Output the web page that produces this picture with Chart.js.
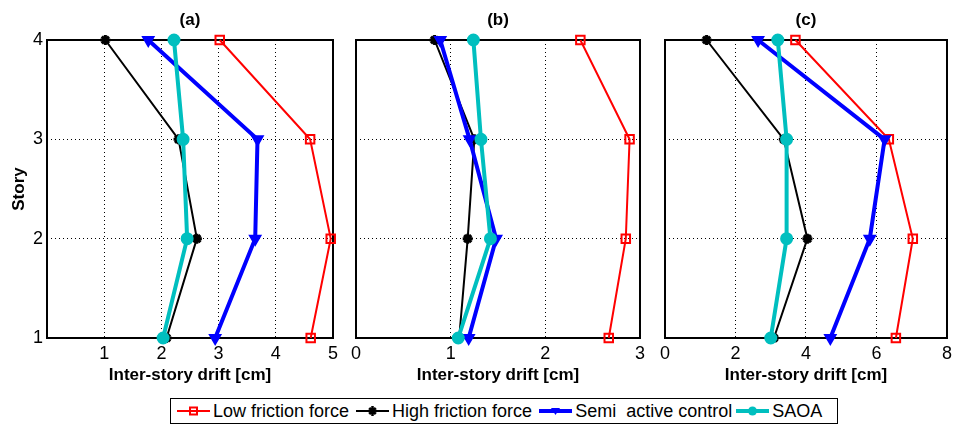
<!DOCTYPE html>
<html>
<head>
<meta charset="utf-8">
<script src="https://cdn.jsdelivr.net/npm/chart.js@4.4.0/dist/chart.umd.min.js"></script>
<style>
  body { margin: 0; background: #fff; font-family: "Liberation Sans", Arial, sans-serif; }
  #wrap { position: relative; width: 957px; height: 426px; overflow: hidden; }
  canvas { position: absolute; top: 0; }
  #legend {
    position: absolute; left: 170px; top: 398px; width: 666px; height: 24px;
    border: 1px solid #000; background: #fff; display: flex; align-items: center;
    font-size: 18px; color: #000; box-sizing: content-box; white-space: pre;
  }
  #legend .item { display: flex; align-items: center; }
  #legend svg { display: block; }
</style>
</head>
<body>
<div id="wrap">
  <canvas id="chartA" width="345" height="395" style="left:0px"></canvas>
  <canvas id="chartB" width="305" height="395" style="left:345px"></canvas>
  <canvas id="chartC" width="307" height="395" style="left:650px"></canvas>
  <div id="legend"></div>
</div>
<script>
// story levels (y) and tick values
var stories = [1, 2, 3, 4];
var yTicks = [1, 2, 3, 4];
var xTicksA = [1, 2, 3, 4, 5];
var xTicksB = [0, 1, 2, 3];
var xTicksC = [0, 2, 4, 6, 8];

var seriesNames = ["Low friction force", "High friction force", "Semi  active control", "SAOA"];
var seriesColors = ["#ff0000", "#000000", "#0000ff", "#00bfbf"];

// inter-story drift [cm] for stories 1..4
var lowA  = [4.61, 4.96, 4.60, 3.02];
var highA = [2.09, 2.62, 2.30, 1.02];
var semiA = [2.94, 3.64, 3.68, 1.77];
var saoaA = [2.03, 2.45, 2.38, 2.22];

var lowB  = [2.67, 2.85, 2.89, 2.37];
var highB = [1.09, 1.18, 1.25, 0.83];
var semiB = [1.19, 1.48, 1.20, 0.89];
var saoaB = [1.08, 1.42, 1.32, 1.24];

var lowC  = [6.55, 7.03, 6.35, 3.70];
var highC = [3.09, 4.04, 3.37, 1.18];
var semiC = [4.69, 5.81, 6.23, 2.64];
var saoaC = [3.00, 3.45, 3.45, 3.20];

// frame around the plot area + panel title
var framePlugin = {
    id: 'frame',
    beforeDatasetsDraw: function(chart) {
        var a = chart.chartArea, ctx = chart.ctx;
        ctx.save();
        ctx.strokeStyle = '#000';
        ctx.lineWidth = 2;
        ctx.strokeRect(a.left, a.top, a.right - a.left, a.bottom - a.top);
        ctx.restore();
    },
    afterDraw: function(chart, args, opts) {
        var a = chart.chartArea, ctx = chart.ctx;
        ctx.save();
        ctx.fillStyle = '#000';
        ctx.font = 'bold 17px "Liberation Sans", Arial, sans-serif';
        ctx.textAlign = 'center';
        ctx.textBaseline = 'middle';
        ctx.fillText(opts.text, (a.left + a.right) / 2, 20);
        ctx.restore();
    }
};

function line(i, xs, width, style, radius, fill, rot, order, pw) {
    return {
        label: seriesNames[i],
        data: xs.map(function(x, k) { return {x: x, y: stories[k]}; }),
        showLine: true,
        borderColor: seriesColors[i],
        borderWidth: width,
        pointStyle: style,
        pointRadius: radius,
        pointBackgroundColor: fill,
        pointBorderColor: seriesColors[i],
        pointBorderWidth: pw,
        pointRotation: rot,
        clip: false,
        order: order
    };
}

function makePanel(id, title, xMax, xTicks, low, high, semi, saoa, showY, yWidth, padRight) {
    var ctx = document.getElementById(id).getContext('2d');
    return new Chart(ctx, {
        type: 'scatter',
        data: {
            datasets: [
                line(0, low, 2, 'rect', 6, 'rgba(0,0,0,0)', 0, 3, 2),
                line(1, high, 2, 'star', 5, '#000', 0, 2, 3),
                line(2, semi, 4, 'triangle', 6, seriesColors[2], 180, 1, 2),
                line(3, saoa, 4, 'circle', 5.5, seriesColors[3], 0, 0, 2)
            ]
        },
        options: {
            responsive: false,
            devicePixelRatio: 1,
            animation: false,
            layout: { padding: { top: 40, right: padRight, left: 0, bottom: 0 } },
            plugins: {
                legend: { display: false },
                tooltip: { enabled: false },
                frame: { text: title }
            },
            scales: {
                x: {
                    type: 'linear',
                    min: 0,
                    max: xMax,
                    afterBuildTicks: function(s) { s.ticks = xTicks.map(function(v) { return {value: v}; }); },
                    afterFit: function(s) { s.height = 57; },
                    grid: { color: '#000', lineWidth: 1, drawTicks: false },
                    border: { display: false, dash: [1, 3] },
                    ticks: { padding: 5, color: '#000', maxRotation: 0, font: { size: 18, family: '"Liberation Sans", Arial' } },
                    title: {
                        display: true, text: 'Inter-story drift [cm]', color: '#000',
                        font: { size: 17, weight: 'bold', family: '"Liberation Sans", Arial' },
                        padding: { top: 0, bottom: 9 }
                    }
                },
                y: {
                    type: 'linear',
                    min: 1,
                    max: 4,
                    afterBuildTicks: function(s) { s.ticks = yTicks.map(function(v) { return {value: v}; }); },
                    afterFit: function(s) { s.width = yWidth; },
                    grid: { color: '#000', lineWidth: 1, drawTicks: false },
                    border: { display: false, dash: [1, 3] },
                    ticks: { display: showY, padding: 4, color: '#000', font: { size: 18, family: '"Liberation Sans", Arial' } },
                    title: {
                        display: showY, text: 'Story', color: '#000',
                        font: { size: 17, weight: 'bold', family: '"Liberation Sans", Arial' },
                        padding: { top: 9, bottom: 0 }
                    }
                }
            }
        },
        plugins: [framePlugin]
    });
}

makePanel('chartA', '(a)', 5, xTicksA, lowA, highA, semiA, saoaA, true, 47, 12);
makePanel('chartB', '(b)', 3, xTicksB, lowB, highB, semiB, saoaB, false, 11, 8);
makePanel('chartC', '(c)', 8, xTicksC, lowC, highC, semiC, saoaC, false, 15, 7);

// shared legend below the panels
function symbol(i) {
    var c = seriesColors[i], m = '';
    if (i == 0) m = '<rect x="13" y="3.5" width="7" height="7" fill="none" stroke="' + c + '" stroke-width="2"/>';
    if (i == 1) m = '<path d="M16.5 2v10M12 7h9M13.3 3.8l6.4 6.4M19.7 3.8l-6.4 6.4" stroke="' + c + '" stroke-width="2.5"/>';
    if (i == 2) m = '<path d="M12 4h9l-4.5 7z" fill="' + c + '"/>';
    if (i == 3) m = '<circle cx="16.5" cy="7" r="4.5" fill="' + c + '"/>';
    var w = (i >= 2) ? 4 : 2;
    return '<svg width="33" height="14"><line x1="0" y1="7" x2="33" y2="7" stroke="' + c + '" stroke-width="' + w + '"/>' + m + '</svg>';
}
var gaps = [6, 7, 7, 4];
var html = '';
for (var i = 0; i < seriesNames.length; i++) {
    html += '<div class="item" style="margin-left:' + gaps[i] + 'px">' + symbol(i) +
            '<span style="margin-left:3px">' + seriesNames[i] + '</span></div>';
}
document.getElementById('legend').innerHTML = html;
</script>
</body>
</html>
